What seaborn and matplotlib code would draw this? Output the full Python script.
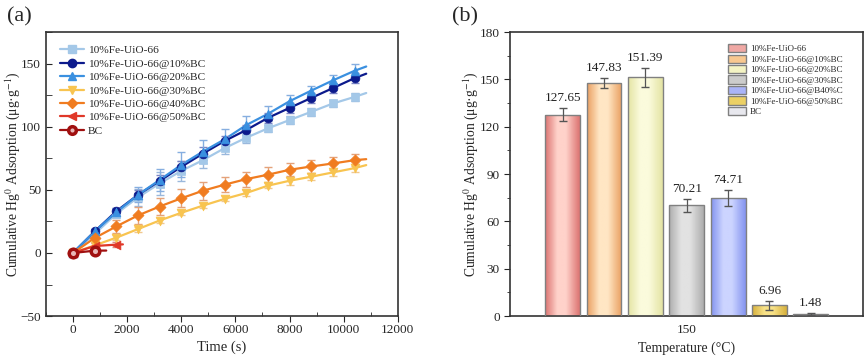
import numpy as np
import pandas as pd
import seaborn as sns
import matplotlib.pyplot as plt
from matplotlib.colors import LinearSegmentedColormap
from matplotlib.lines import Line2D
from matplotlib.patches import Patch
from matplotlib.ticker import MultipleLocator

# ---- (a) cumulative adsorption vs time ----
series = ['10%Fe-UiO-66', '10%Fe-UiO-66@10%BC', '10%Fe-UiO-66@20%BC', '10%Fe-UiO-66@30%BC',
          '10%Fe-UiO-66@40%BC', '10%Fe-UiO-66@50%BC', 'BC']
t_long = [0, 800, 1600, 2400, 3200, 4000, 4800, 5600, 6400, 7200, 8000, 8800, 9600, 10400]
t_50 = [0, 800, 1600]
t_bc = [0, 800]

v_fe = [0, 15, 31, 44, 55, 65, 73.5, 83, 91.3, 98.7, 105.3, 111.8, 118.4, 123.6]
v_10 = [0, 17, 33, 46, 57, 68.2, 78.7, 88.7, 97.4, 107, 114.9, 122.8, 130.6, 138.5]
v_20 = [0, 17, 32.3, 46, 57.8, 69.8, 80.3, 90, 101.3, 110.2, 120.2, 128.6, 136.7, 144.3]
v_30 = [0, 6, 12.1, 18.9, 25.7, 31.8, 37.5, 42.8, 47.5, 53.3, 57.2, 60.4, 63.8, 67.2]
v_40 = [0, 11.8, 21, 29.7, 36.8, 43.3, 49.3, 54.1, 58.5, 62, 65.9, 68.5, 70.9, 73.5]
v_50 = [0, 5.5, 6.6]
v_bc = [0, 1.8]

e_fe = [0, 3, 3, 7, 9, 8, 6, 5, 4, 3, 3, 3, 3, 3]
e_10 = [0, 2, 3, 4, 5, 5, 5, 4, 4, 4, 4, 4, 4, 4]
e_20 = [0, 2, 3, 6, 9, 10, 9, 8, 7, 6, 5, 4, 4, 5]
e_30 = [0, 2, 2, 2, 2, 2, 2, 2, 2, 2, 3, 3, 3, 3]
e_40 = [0, 3, 5, 7, 7, 7, 7, 6, 6, 6, 5, 5, 5, 5]
e_50 = [0, 2, 2]
e_bc = [0, 1]

# end points of the fitted curves (lines run past the last measurement)
t_end = [10830, 10830, 10830, 10830, 10830, 1845, 1230]
v_end = [126.7, 142, 147.7, 69.6, 74.3, 6.8, 1.9]

colors = ['#a4c8e8', '#0c1a8c', '#3a90e0', '#f8c450', '#f07c20', '#e03828', '#a01010']
ecolors = ['#9ab8dc', '#7a84c4', '#86aee0', '#f0c890', '#e4a27a', '#e08a80', '#c06060']
markers = ['s', 'o', '^', 'v', 'D', '<', 'o']

ts = [t_long] * 5 + [t_50, t_bc]
vs = [v_fe, v_10, v_20, v_30, v_40, v_50, v_bc]
es = [e_fe, e_10, e_20, e_30, e_40, e_50, e_bc]

pts = pd.concat([pd.DataFrame({'t': t, 'v': v, 'e': e, 's': s})
                 for t, v, e, s in zip(ts, vs, es, series)], ignore_index=True)
lines = pd.concat([pts[['t', 'v', 's']],
                   pd.DataFrame({'t': t_end, 'v': v_end, 's': series})], ignore_index=True)
lines = lines.sort_values(['s', 't'])

# ---- (b) bars ----
bar_vals = [127.65, 147.83, 151.39, 70.21, 74.71, 6.96, 1.48]
bar_errs = [4, 3, 6, 4, 5, 2.8, 0.6]
bar_labels = ['10%Fe-UiO-66', '10%Fe-UiO-66@10%BC', '10%Fe-UiO-66@20%BC', '10%Fe-UiO-66@30%BC',
              '10%Fe-UiO-66@B40%C', '10%Fe-UiO-66@50%BC', 'BC']
bar_dark = ['#dc7472', '#eaa062', '#e4e4a4', '#aeaeae', '#8494f0', '#d6b03c', '#c4c4cc']
bar_light = ['#ffd2ca', '#ffe6c4', '#fbfbdc', '#e2e2e2', '#ccd4ff', '#f8e288', '#f6f6fa']
bar_mid = ['#f0a8a4', '#f8c890', '#f4f4c4', '#cccccc', '#aab4f8', '#ecd064', '#e8e8ee']
bars = pd.DataFrame({'temp': ['150'] * 7, 'val': bar_vals, 'sample': bar_labels})

sns.set_style('ticks')
plt.rcParams['font.family'] = ['Liberation Serif', 'DejaVu Serif']
plt.rcParams['mathtext.fontset'] = 'stix'

fig = plt.figure(figsize=(8.65, 3.6), dpi=100)
ax1 = fig.add_axes([0.053, 0.122, 0.407, 0.789])
ax2 = fig.add_axes([0.590, 0.122, 0.408, 0.789])

pal = dict(zip(series, colors))
sns.lineplot(data=lines, x='t', y='v', hue='s', palette=pal, legend=False, ax=ax1,
             lw=1.6, estimator=None, sort=False)
for s, m, ec in zip(series, markers, ecolors):
    d = pts[pts.s == s]
    ax1.errorbar(d.t, d.v, yerr=d.e, fmt='none', ecolor=ec, elinewidth=1, capsize=3, zorder=2)
    if s == 'BC':
        sns.scatterplot(x=d.t, y=d.v, marker='o', s=38, color='#e8b8b8', edgecolor=pal[s],
                        linewidth=2.5, ax=ax1, zorder=4)
    else:
        sns.scatterplot(x=d.t, y=d.v, marker=m, s=40 if m != 'D' else 32, color=pal[s],
                        edgecolor=pal[s], linewidth=0.5, ax=ax1, zorder=4)

ax1.set_xlim(-1000, 12000)
ax1.set_ylim(-50, 175)
ax1.xaxis.set_major_locator(MultipleLocator(2000))
ax1.xaxis.set_minor_locator(MultipleLocator(1000))
ax1.yaxis.set_major_locator(MultipleLocator(50))
ax1.yaxis.set_minor_locator(MultipleLocator(25))
ax1.tick_params(axis='x', which='major', direction='out', length=4, labelsize=9.5, pad=2)
ax1.tick_params(axis='x', which='minor', direction='in', length=3)
ax1.tick_params(axis='y', which='both', direction='in', length=4, labelsize=9.5)
ax1.set_xlabel('Time (s)', fontsize=10.5, labelpad=3)
ax1.set_ylabel('Cumulative Hg$^0$ Adsorption (μg·g$^{-1}$)', fontsize=9.8)
ax1.yaxis.set_label_coords(-0.068, 0.5)
for sp in ax1.spines.values():
    sp.set_linewidth(1.2)
    sp.set_color('#333333')

handles = []
for s, m in zip(series, markers):
    if s == 'BC':
        handles.append(Line2D([], [], color=pal[s], marker='o', mfc='#e8b8b8', mec=pal[s],
                              mew=2.5, ms=5.5, lw=1.6))
    else:
        handles.append(Line2D([], [], color=pal[s], marker=m, ms=6 if m != 'D' else 5, lw=1.6))
ax1.legend(handles, series, loc='upper left', bbox_to_anchor=(0.015, 0.985), frameon=False,
           fontsize=8.2, labelspacing=0.3, handlelength=2.1, handletextpad=0.3, borderpad=0.3)

# ---- bars ----
sns.barplot(data=bars, x='temp', y='val', hue='sample', hue_order=bar_labels,
            palette=dict(zip(bar_labels, bar_mid)), width=0.82, gap=0.16,
            edgecolor='#808080', linewidth=1, legend=False, ax=ax2)
patches = [c.patches[0] for c in ax2.containers]
for p, dk, lt, v, e in zip(patches, bar_dark, bar_light, bar_vals, bar_errs):
    bb = p.get_bbox()
    cmap = LinearSegmentedColormap.from_list('g', [(0, dk), (0.35, lt), (0.6, lt), (1, dk)])
    im = ax2.imshow(np.linspace(0, 1, 64).reshape(1, -1), cmap=cmap, aspect='auto',
                    extent=[bb.x0, bb.x1, bb.y0, bb.y1], zorder=2, interpolation='bilinear')
    im.set_clip_path(p)
    p.set_facecolor('none')
    p.set_zorder(3)
    xc = bb.x0 + bb.width / 2
    ax2.errorbar([xc], [v], yerr=[e], fmt='none', ecolor='#555555', elinewidth=0.9,
                 capsize=3, zorder=4)
    ax2.text(xc, v + e + 2.5, f'{v:.2f}', ha='center', va='bottom', fontsize=9.5, color='#222222')

ax2.set_xlim(-0.5, 0.5)
ax2.set_ylim(0, 180)
ax2.yaxis.set_major_locator(MultipleLocator(30))
ax2.yaxis.set_minor_locator(MultipleLocator(15))
ax2.tick_params(axis='y', which='major', direction='out', length=4, labelsize=9.5)
ax2.tick_params(axis='y', which='minor', direction='out', length=2.5)
ax2.tick_params(axis='x', length=0, labelsize=9.5, pad=6)
ax2.set_xlabel('Temperature (°C)', fontsize=10, labelpad=4)
ax2.set_ylabel('Cumulative Hg$^0$ Adsorption (μg·g$^{-1}$)', fontsize=9.8)
ax2.yaxis.set_label_coords(-0.085, 0.5)
for sp in ax2.spines.values():
    sp.set_linewidth(1.2)
    sp.set_color('#333333')

bar_handles = [Patch(facecolor=c, edgecolor='#808080', lw=1) for c in bar_mid]
ax2.legend(bar_handles, bar_labels, loc='upper left', bbox_to_anchor=(0.6, 0.98),
           frameon=False, fontsize=6.5, labelspacing=0.15, handlelength=2.0,
           handleheight=1.0, handletextpad=0.4, borderpad=0.2)

fig.text(0.008, 0.952, '(a)', fontsize=16, va='center')
fig.text(0.522, 0.952, '(b)', fontsize=16, va='center')

fig.savefig('out.png', dpi=100)
